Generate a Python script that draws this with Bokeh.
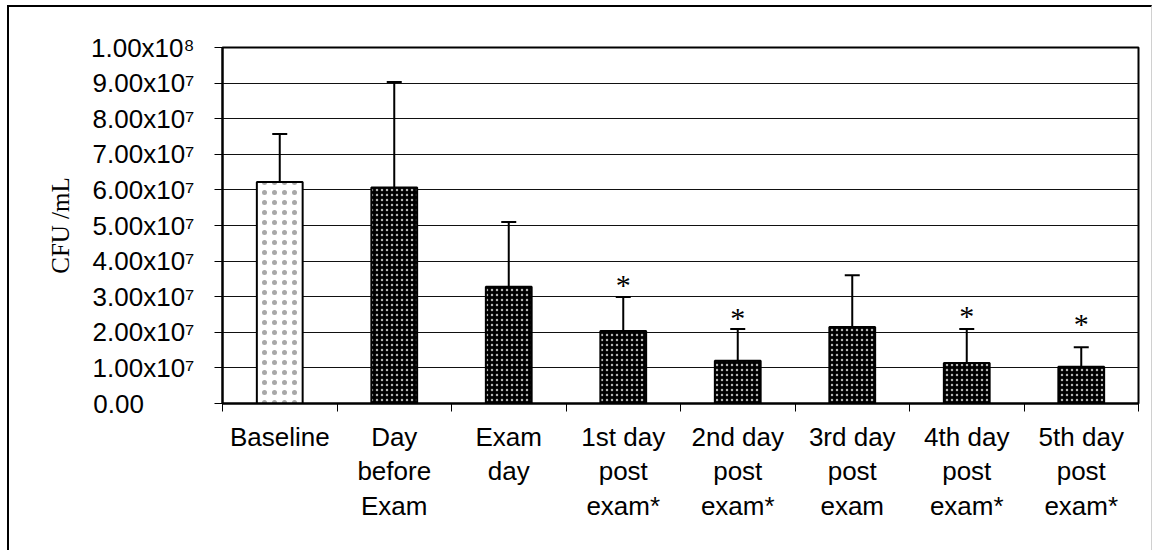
from bokeh.plotting import figure
from bokeh.models import ColumnDataSource, Range1d, FixedTicker, Whisker, TeeHead, CDSView, IndexFilter
from bokeh.embed import file_html
from bokeh.resources import INLINE
from bokeh.core.properties import value

# ---- data ----
categories = ["Baseline", "Day\nbefore\nExam", "Exam\nday", "1st day\npost\nexam*",
              "2nd day\npost\nexam*", "3rd day\npost\nexam", "4th day\npost\nexam*", "5th day\npost\nexam*"]
cfu_mean = [6.22e7, 6.07e7, 3.28e7, 2.04e7, 1.20e7, 2.15e7, 1.14e7, 1.03e7]
cfu_sd = [1.35e7, 2.96e7, 1.82e7, 0.95e7, 0.89e7, 1.45e7, 0.95e7, 0.55e7]
significant = [False, False, False, True, True, False, True, True]
star_y = [None, None, None, 3.39e7, 2.48e7, None, 2.53e7, 2.29e7]
y_ticks = [0, 1e7, 2e7, 3e7, 4e7, 5e7, 6e7, 7e7, 8e7, 9e7, 1e8]
y_tick_labels = ["0.00\u2007\u2007\u2007\u2008", "1.00x10\u2077", "2.00x10\u2077", "3.00x10\u2077",
                 "4.00x10\u2077", "5.00x10\u2077", "6.00x10\u2077", "7.00x10\u2077",
                 "8.00x10\u2077", "9.00x10\u2077", "1.00x10\u2078"]

n = len(categories)
xc = [i + 0.5 for i in range(n)]
upper = [m + s for m, s in zip(cfu_mean, cfu_sd)]
src = ColumnDataSource(dict(x=xc, mean=cfu_mean, upper=upper))

p = figure(width=1145, height=545, x_range=Range1d(0, n), y_range=Range1d(0, 1e8),
           output_backend="svg", toolbar_location=None,
           min_border_left=213, min_border_right=16, min_border_top=40, min_border_bottom=149,
           background_fill_color="white", border_fill_color="white",
           styles={"margin-left": "7px", "margin-top": "5px",
                   "border-left": "2px solid black", "border-top": "2px solid black",
                   "border-right": "1px solid #d0d0d0"})
p.outline_line_color = "black"
p.outline_line_width = 2

# grid
p.xgrid.visible = False
p.ygrid.ticker = FixedTicker(ticks=y_ticks)
p.ygrid.grid_line_color = "#111111"
p.ygrid.grid_line_width = 1

# bars
base_view = CDSView(filter=IndexFilter([0]))
rest_view = CDSView(filter=IndexFilter(list(range(1, n))))
p.vbar(x="x", top="mean", width=0.4, source=src, view=base_view,
       fill_color="white", line_color="black", line_width=2,
       hatch_pattern="dot", hatch_color="#a8a8a8", hatch_scale=10)
p.vbar(x="x", top="mean", width=0.4, source=src, view=rest_view,
       fill_color="black", line_color="black", line_width=2,
       hatch_pattern="dot", hatch_color="#b4b4b4", hatch_scale=5)

# error bars (upper only)
p.add_layout(Whisker(source=src, base="x", lower="mean", upper="upper", dimension="height",
                     line_color="black", line_width=2, lower_head=None,
                     upper_head=TeeHead(size=15, line_color="black", line_width=2)))

# significance stars
sx = [x for x, s in zip(xc, significant) if s]
sy = [y for y, s in zip(star_y, significant) if s]
p.text(x=sx, y=sy, text=["*"] * len(sx), text_align="center", text_baseline="middle",
       y_offset=2, text_font=value("Liberation Serif"), text_font_size="30px", text_color="black")

# x axis: labels at centres, ticks at category boundaries
xa = p.xaxis[0]
xa.ticker = FixedTicker(ticks=xc, minor_ticks=list(range(n + 1)))
xa.major_label_overrides = {x: c for x, c in zip(xc, categories)}
xa.major_tick_out = 0
xa.major_tick_in = 0
xa.minor_tick_out = 8
xa.minor_tick_in = 0
xa.minor_tick_line_color = "black"
xa.axis_line_color = "black"
xa.axis_line_width = 2
xa.major_label_standoff = 10
xa.major_label_text_font = "Liberation Sans"
xa.major_label_text_font_size = "26px"
xa.major_label_text_color = "black"
xa.major_label_text_line_height = 1.16

# y axis
ya = p.yaxis[0]
ya.ticker = FixedTicker(ticks=y_ticks)
ya.major_label_overrides = {t: l for t, l in zip(y_ticks, y_tick_labels)}
ya.major_tick_out = 8
ya.major_tick_in = 0
ya.minor_tick_out = 0
ya.minor_tick_in = 0
ya.major_tick_line_color = "black"
ya.axis_line_color = "black"
ya.axis_line_width = 2
ya.major_label_standoff = 20
ya.major_label_text_font = "Liberation Sans"
ya.major_label_text_font_size = "26px"
ya.major_label_text_color = "black"
ya.axis_label = "CFU /mL"
ya.axis_label_text_font = "Liberation Serif"
ya.axis_label_text_font_style = "normal"
ya.axis_label_text_font_size = "25px"
ya.axis_label_text_color = "black"
ya.axis_label_standoff = 14

open("out.html", "w").write(file_html(p, INLINE))
